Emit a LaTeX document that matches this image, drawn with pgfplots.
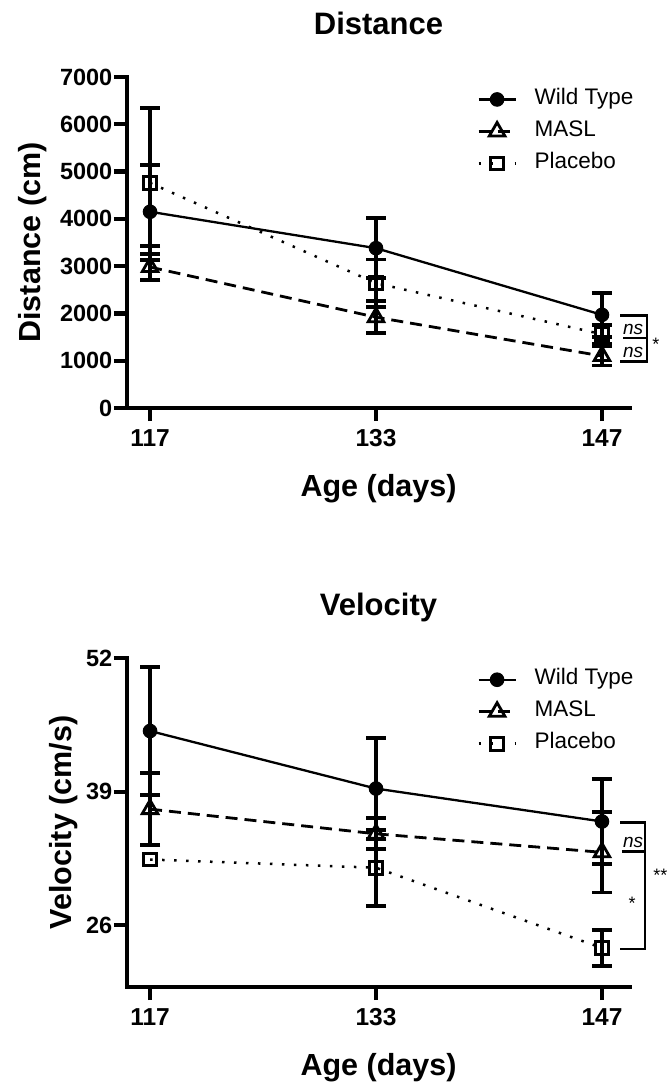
\documentclass[border=0pt]{standalone}
\usepackage{fontspec}
\setmainfont{Liberation Sans}
\usepackage{pgfplots}
\pgfplotsset{compat=1.18}

\pgfplotsset{
  gp/.style={
    scale only axis, width=503pt,
    axis x line=bottom, axis y line=left,
    axis line style={line width=4.2pt, -, line cap=rect, black},
    x axis line style={-}, y axis line style={-},
    tick style={line width=4.2pt, black},
    tick align=outside, major tick length=13pt,
    minor tick num=0,
    xmin=-0.102, xmax=2.124,
    xtick={0,1,2}, xticklabels={117,133,147},
    yticklabel style={font=\bfseries\fontsize{23.5}{24}\selectfont, inner sep=1.5pt},
    xticklabel style={font=\bfseries\fontsize{24.5}{25}\selectfont, inner sep=8pt},
    /pgf/number format/assume math mode=true,
    /pgf/number format/1000 sep={},
    title style={font=\bfseries\fontsize{31}{32}\selectfont, at={(axis description cs:0.5,1)}, anchor=base, yshift=36.5pt},
    xlabel style={font=\bfseries\fontsize{30.5}{32}\selectfont, at={(axis description cs:0.5,0)}, anchor=base, yshift=-88pt},
    ylabel style={font=\bfseries\fontsize{30.5}{32}\selectfont, anchor=base},
    clip=false,
    legend style={draw=none, fill=none, font=\fontsize{22.5}{23}\selectfont, anchor=north west,
      row sep=12pt, inner sep=0pt, nodes={inner sep=0pt, text height=15pt, text depth=5pt}},
    legend cell align=left,
    legend image code/.code={%
      \path[draw=none, fill=none] (0pt,0pt) -- (56pt,0pt);
      \draw[mark repeat=2, mark phase=2, ##1] plot coordinates {(0pt,0pt) (18.5pt,0pt) (37pt,0pt)};},
  },
  errs/.style={draw=none, mark=none, forget plot,
    error bars/.cd, y dir=both, y explicit,
    error bar style={draw=black, solid, line width=3.8pt},
    error mark options={draw=black, solid, line width=3.8pt, mark size=10pt, rotate=90}},
  wt/.style={black, solid, line width=2.3pt, mark=*, mark size=6.8pt, mark options={solid, fill=black, line width=1pt}},
  masl/.style={black, line width=2.8pt, dash pattern=on 12pt off 7pt, mark=triangle, mark size=9pt, mark options={solid, line width=2.8pt}},
  plac/.style={black, line width=2.5pt, dash pattern=on 2.5pt off 9.5pt, mark=square, mark size=6.3pt, mark options={solid, line width=3pt}},
}

\begin{document}
\begin{tikzpicture}[x=1pt,y=1pt]
% ---------------- Distance ----------------
\begin{axis}[gp, height=331pt, at={(127pt,-408pt)}, anchor=south west,
  ymin=0, ymax=7000, ytick={0,1000,...,7000},
  title={Distance}, xlabel={Age (days)}, ylabel={Distance (cm)},
  ylabel style={at={(axis description cs:-0.171,0.5)}},
  legend style={at={(axis description cs:0.6958,0.963)}},
]
\addplot[errs] coordinates {(0,4150) += (0,2190) -= (0,730) (1,3380) +- (0,630) (2,1970) +- (0,460)};
\addplot[errs] coordinates {(0,2980) +- (0,270) (1,1920) +- (0,340) (2,1100) +- (0,200)};
\addplot[errs] coordinates {(0,4760) += (0,380) -= (0,1630) (1,2640) +- (0,500) (2,1560) +- (0,200)};
\addplot[wt] coordinates {(0,4150) (1,3380) (2,1970)};
\addlegendentry{Wild Type}
\addplot[masl] coordinates {(0,2980) (1,1920) (2,1100)};
\addlegendentry{MASL}
\addplot[plac] coordinates {(0,4760) (1,2640) (2,1560)};
\addlegendentry{Placebo}
% significance
\draw[line width=2.8pt, line cap=rect] (axis cs:2.088,1960) -| (axis cs:2.199,990) -- (axis cs:2.088,990);
\draw[line width=2.8pt] (axis cs:2.095,1480) -- (axis cs:2.199,1480);
\node[anchor=base, inner sep=0pt, font=\itshape\fontsize{19}{20}\selectfont] at (axis cs:2.138,1565) {ns};
\node[anchor=base, inner sep=0pt, font=\itshape\fontsize{19}{20}\selectfont] at (axis cs:2.138,1075) {ns};
\node[anchor=base west, inner sep=0pt, font=\fontsize{18}{20}\selectfont] at (axis cs:2.222,1209) {*};
\end{axis}

% ---------------- Velocity ----------------
\begin{axis}[gp, height=329pt, at={(127pt,-987pt)}, anchor=south west,
  ymin=20, ymax=52, ytick={26,39,52},
  title={Velocity}, xlabel={Age (days)}, ylabel={Velocity (cm/s)},
  ylabel style={at={(axis description cs:-0.111,0.5)}},
  legend style={at={(axis description cs:0.6958,0.965)}},
]
\addplot[errs] coordinates {(0,44.9) +- (0,6.2) (1,39.3) +- (0,4.9) (2,36.1) +- (0,4.1)};
\addplot[errs] coordinates {(0,37.3) +- (0,3.5) (1,34.9) +- (0,1.5) (2,33.1) +- (0,3.9)};
\addplot[errs] coordinates {(1,31.6) +- (0,3.7) (2,23.8) +- (0,1.75)};
\addplot[wt] coordinates {(0,44.9) (1,39.3) (2,36.1)};
\addlegendentry{Wild Type}
\addplot[masl] coordinates {(0,37.3) (1,34.9) (2,33.1)};
\addlegendentry{MASL}
\addplot[plac] coordinates {(0,32.4) (1,31.6) (2,23.8)};
\addlegendentry{Placebo}
% significance
\draw[line width=2.8pt, line cap=rect] (axis cs:2.088,36.0) -| (axis cs:2.19,23.7) -- (axis cs:2.088,23.7);
\draw[line width=2.8pt] (axis cs:2.088,33.2) -- (axis cs:2.19,33.2);
\node[anchor=base, inner sep=0pt, font=\itshape\fontsize{19}{20}\selectfont] at (axis cs:2.138,33.55) {ns};
\node[anchor=base, inner sep=0pt, font=\fontsize{18}{20}\selectfont] at (axis cs:2.133,27.56) {*};
\node[anchor=base west, inner sep=0pt, font=\fontsize{18}{20}\selectfont] at (axis cs:2.226,30.3) {**};
\end{axis}

\pgfresetboundingbox
\path[use as bounding box] (0pt,0pt) rectangle (667pt,-1084pt);
\end{tikzpicture}
\end{document}
